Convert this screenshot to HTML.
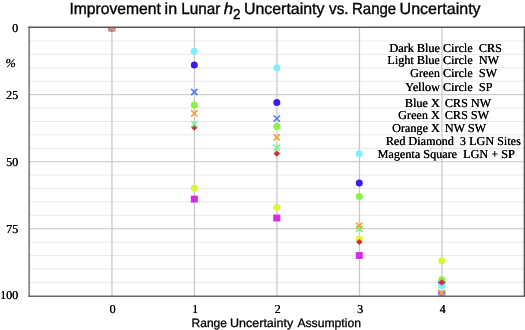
<!DOCTYPE html>
<html><head><meta charset="utf-8"><title>Improvement in Lunar h2 Uncertainty vs. Range Uncertainty</title>
<style>
html,body{margin:0;padding:0;background:#fff;}
body{width:525px;height:330px;overflow:hidden;font-family:"Liberation Sans",sans-serif;}
svg{display:block;will-change:transform;}
text{text-rendering:geometricPrecision;}
.t{font-family:"Liberation Sans",sans-serif;font-size:16px;fill:#000;stroke:#000;stroke-width:0.35px;}
.s{font-family:"Liberation Serif",serif;font-size:12.2px;fill:#000;}
.xl{font-family:"Liberation Sans",sans-serif;font-size:12px;fill:#000;stroke:#000;stroke-width:0.3px;}
</style></head><body>
<svg width="525" height="330" viewBox="0 0 525 330">
<rect x="0" y="0" width="525" height="330" fill="#fff"/>
<defs><clipPath id="pc"><rect x="29.30" y="27.30" width="495.00" height="268.50"/></clipPath></defs>

<line x1="29.30" y1="41.01" x2="524.30" y2="41.01" stroke="#e9e9e9" stroke-width="1"/>
<line x1="29.30" y1="54.42" x2="524.30" y2="54.42" stroke="#e9e9e9" stroke-width="1"/>
<line x1="29.30" y1="67.83" x2="524.30" y2="67.83" stroke="#e9e9e9" stroke-width="1"/>
<line x1="29.30" y1="81.24" x2="524.30" y2="81.24" stroke="#e9e9e9" stroke-width="1"/>
<line x1="29.30" y1="94.65" x2="524.30" y2="94.65" stroke="#c6c6c6" stroke-width="1"/>
<line x1="29.30" y1="108.06" x2="524.30" y2="108.06" stroke="#e9e9e9" stroke-width="1"/>
<line x1="29.30" y1="121.47" x2="524.30" y2="121.47" stroke="#e9e9e9" stroke-width="1"/>
<line x1="29.30" y1="134.88" x2="524.30" y2="134.88" stroke="#e9e9e9" stroke-width="1"/>
<line x1="29.30" y1="148.29" x2="524.30" y2="148.29" stroke="#e9e9e9" stroke-width="1"/>
<line x1="29.30" y1="161.70" x2="524.30" y2="161.70" stroke="#c6c6c6" stroke-width="1"/>
<line x1="29.30" y1="175.11" x2="524.30" y2="175.11" stroke="#e9e9e9" stroke-width="1"/>
<line x1="29.30" y1="188.52" x2="524.30" y2="188.52" stroke="#e9e9e9" stroke-width="1"/>
<line x1="29.30" y1="201.93" x2="524.30" y2="201.93" stroke="#e9e9e9" stroke-width="1"/>
<line x1="29.30" y1="215.34" x2="524.30" y2="215.34" stroke="#e9e9e9" stroke-width="1"/>
<line x1="29.30" y1="228.75" x2="524.30" y2="228.75" stroke="#c6c6c6" stroke-width="1"/>
<line x1="29.30" y1="242.16" x2="524.30" y2="242.16" stroke="#e9e9e9" stroke-width="1"/>
<line x1="29.30" y1="255.57" x2="524.30" y2="255.57" stroke="#e9e9e9" stroke-width="1"/>
<line x1="29.30" y1="268.98" x2="524.30" y2="268.98" stroke="#e9e9e9" stroke-width="1"/>
<line x1="29.30" y1="282.39" x2="524.30" y2="282.39" stroke="#e9e9e9" stroke-width="1"/>
<line x1="111.95" y1="27.30" x2="111.95" y2="295.80" stroke="#cacaca" stroke-width="1.3"/>
<line x1="194.45" y1="27.30" x2="194.45" y2="295.80" stroke="#cacaca" stroke-width="1.3"/>
<line x1="276.95" y1="27.30" x2="276.95" y2="295.80" stroke="#cacaca" stroke-width="1.3"/>
<line x1="359.45" y1="27.30" x2="359.45" y2="295.80" stroke="#cacaca" stroke-width="1.3"/>
<line x1="441.95" y1="27.30" x2="441.95" y2="295.80" stroke="#cacaca" stroke-width="1.3"/>
<g clip-path="url(#pc)">
<circle cx="111.80" cy="27.90" r="3.5" fill="#3a1cf5"/>
<circle cx="194.30" cy="65.00" r="3.5" fill="#3a1cf5"/>
<circle cx="276.80" cy="102.50" r="3.5" fill="#3a1cf5"/>
<circle cx="359.30" cy="182.90" r="3.5" fill="#3a1cf5"/>
<circle cx="441.80" cy="282.40" r="3.5" fill="#3a1cf5"/>
<circle cx="111.80" cy="27.90" r="3.5" fill="#7deefb"/>
<circle cx="194.30" cy="51.30" r="3.5" fill="#7deefb"/>
<circle cx="276.80" cy="67.70" r="3.5" fill="#7deefb"/>
<circle cx="359.30" cy="153.80" r="3.5" fill="#7deefb"/>
<circle cx="441.80" cy="285.80" r="3.5" fill="#7deefb"/>
<circle cx="111.80" cy="27.90" r="3.5" fill="#86f53c"/>
<circle cx="194.30" cy="105.00" r="3.5" fill="#86f53c"/>
<circle cx="276.80" cy="126.50" r="3.5" fill="#86f53c"/>
<circle cx="359.30" cy="196.50" r="3.5" fill="#86f53c"/>
<circle cx="441.80" cy="279.70" r="3.5" fill="#86f53c"/>
<circle cx="111.80" cy="27.90" r="3.5" fill="#d8f92e"/>
<circle cx="194.30" cy="188.30" r="3.5" fill="#d8f92e"/>
<circle cx="276.80" cy="207.20" r="3.5" fill="#d8f92e"/>
<circle cx="359.30" cy="238.90" r="3.5" fill="#d8f92e"/>
<circle cx="441.80" cy="260.80" r="3.5" fill="#d8f92e"/>
<rect x="108.30" y="24.45" width="7.0" height="6.9" fill="#d92be6"/>
<rect x="190.80" y="195.65" width="7.0" height="6.9" fill="#d92be6"/>
<rect x="273.30" y="214.55" width="7.0" height="6.9" fill="#d92be6"/>
<rect x="355.80" y="252.05" width="7.0" height="6.9" fill="#d92be6"/>
<rect x="438.30" y="290.85" width="7.0" height="6.9" fill="#d92be6"/>
<path d="M194.30 124.55L197.60 127.60L194.30 130.65L191.00 127.60Z" fill="#d22f3a"/>
<path d="M276.80 150.55L280.10 153.60L276.80 156.65L273.50 153.60Z" fill="#d22f3a"/>
<path d="M359.30 238.95L362.60 242.00L359.30 245.05L356.00 242.00Z" fill="#d22f3a"/>
<path d="M441.80 279.35L445.10 282.40L441.80 285.45L438.50 282.40Z" fill="#d22f3a"/>
<path d="M108.65 24.75L114.95 31.05M108.65 31.05L114.95 24.75" stroke="#4f7bf5" stroke-width="1.6" fill="none"/>
<path d="M191.15 88.85L197.45 95.15M191.15 95.15L197.45 88.85" stroke="#4f7bf5" stroke-width="1.6" fill="none"/>
<path d="M273.65 115.45L279.95 121.75M273.65 121.75L279.95 115.45" stroke="#4f7bf5" stroke-width="1.6" fill="none"/>
<path d="M438.65 293.15L444.95 299.45M438.65 299.45L444.95 293.15" stroke="#4f7bf5" stroke-width="1.6" fill="none"/>
<path d="M108.65 24.75L114.95 31.05M108.65 31.05L114.95 24.75" stroke="#70f48e" stroke-width="1.6" fill="none"/>
<path d="M191.15 121.05L197.45 127.35M191.15 127.35L197.45 121.05" stroke="#70f48e" stroke-width="1.6" fill="none"/>
<path d="M273.65 144.65L279.95 150.95M273.65 150.95L279.95 144.65" stroke="#70f48e" stroke-width="1.6" fill="none"/>
<path d="M356.15 225.85L362.45 232.15M356.15 232.15L362.45 225.85" stroke="#70f48e" stroke-width="1.6" fill="none"/>
<path d="M438.65 289.75L444.95 296.05M438.65 296.05L444.95 289.75" stroke="#70f48e" stroke-width="1.6" fill="none"/>
<path d="M108.65 24.75L114.95 31.05M108.65 31.05L114.95 24.75" stroke="#f0a235" stroke-width="1.6" fill="none"/>
<path d="M191.15 110.15L197.45 116.45M191.15 116.45L197.45 110.15" stroke="#f0a235" stroke-width="1.6" fill="none"/>
<path d="M273.65 134.15L279.95 140.45M273.65 140.45L279.95 134.15" stroke="#f0a235" stroke-width="1.6" fill="none"/>
<path d="M356.15 222.55L362.45 228.85M356.15 228.85L362.45 222.55" stroke="#f0a235" stroke-width="1.6" fill="none"/>
<path d="M438.65 289.95L444.95 296.25M438.65 296.25L444.95 289.95" stroke="#f0a235" stroke-width="1.6" fill="none"/>
</g>
<path d="M29.15 26.60V296.70" fill="none" stroke="#767676" stroke-width="1.5"/>
<path d="M524.40 26.60V296.70" fill="none" stroke="#585858" stroke-width="1.5"/>
<path d="M28.40 27.30H525.20" fill="none" stroke="#5a5a5a" stroke-width="1.4"/>
<path d="M28.40 296.20H525.20" fill="none" stroke="#686868" stroke-width="1.6"/>
<text class="t" x="69.40" y="13.60" textLength="91.50" lengthAdjust="spacingAndGlyphs" >Improvement</text>
<text class="t" x="164.60" y="13.60" textLength="12.50" lengthAdjust="spacingAndGlyphs" >in</text>
<text class="t" x="181.30" y="13.60" textLength="39.00" lengthAdjust="spacingAndGlyphs" >Lunar</text>
<text class="t" x="223.70" y="13.60" textLength="9.30" lengthAdjust="spacingAndGlyphs" font-style="italic">h</text>
<text class="t" x="233.00" y="18.70" textLength="7.60" lengthAdjust="spacingAndGlyphs" style="font-size:14.5px">2</text>
<text class="t" x="243.90" y="13.60" textLength="80.60" lengthAdjust="spacingAndGlyphs" >Uncertainty</text>
<text class="t" x="329.00" y="13.60" textLength="19.50" lengthAdjust="spacingAndGlyphs" >vs.</text>
<text class="t" x="352.00" y="13.60" textLength="44.20" lengthAdjust="spacingAndGlyphs" >Range</text>
<text class="t" x="399.60" y="13.60" textLength="81.00" lengthAdjust="spacingAndGlyphs" >Uncertainty</text>
<text class="s" x="18.15" y="31.50" text-anchor="end" xml:space="preserve" >0</text>
<text class="s" x="18.45" y="31.50" text-anchor="end" xml:space="preserve" >0</text>
<text class="s" x="18.15" y="99.20" text-anchor="end" xml:space="preserve" >25</text>
<text class="s" x="18.45" y="99.20" text-anchor="end" xml:space="preserve" >25</text>
<text class="s" x="18.15" y="166.20" text-anchor="end" xml:space="preserve" >50</text>
<text class="s" x="18.45" y="166.20" text-anchor="end" xml:space="preserve" >50</text>
<text class="s" x="18.15" y="233.20" text-anchor="end" xml:space="preserve" >75</text>
<text class="s" x="18.45" y="233.20" text-anchor="end" xml:space="preserve" >75</text>
<text class="s" x="18.15" y="299.20" text-anchor="end" xml:space="preserve" >100</text>
<text class="s" x="18.45" y="299.20" text-anchor="end" xml:space="preserve" >100</text>
<text class="s" x="5.45" y="67.00" xml:space="preserve" font-style="italic">%</text>
<text class="s" x="5.75" y="67.00" xml:space="preserve" font-style="italic">%</text>
<text class="s" x="112.45" y="313.00" text-anchor="middle" xml:space="preserve" >0</text>
<text class="s" x="112.75" y="313.00" text-anchor="middle" xml:space="preserve" >0</text>
<text class="s" x="194.95" y="313.00" text-anchor="middle" xml:space="preserve" >1</text>
<text class="s" x="195.25" y="313.00" text-anchor="middle" xml:space="preserve" >1</text>
<text class="s" x="277.45" y="313.00" text-anchor="middle" xml:space="preserve" >2</text>
<text class="s" x="277.75" y="313.00" text-anchor="middle" xml:space="preserve" >2</text>
<text class="s" x="359.95" y="313.00" text-anchor="middle" xml:space="preserve" >3</text>
<text class="s" x="360.25" y="313.00" text-anchor="middle" xml:space="preserve" >3</text>
<text class="s" x="442.45" y="313.00" text-anchor="middle" xml:space="preserve" >4</text>
<text class="s" x="442.75" y="313.00" text-anchor="middle" xml:space="preserve" >4</text>
<text class="xl" x="191.60" y="326.60" textLength="35.40" lengthAdjust="spacingAndGlyphs" >Range</text>
<text class="xl" x="230.00" y="326.60" textLength="63.30" lengthAdjust="spacingAndGlyphs" >Uncertainty</text>
<text class="xl" x="297.40" y="326.60" textLength="63.60" lengthAdjust="spacingAndGlyphs" >Assumption</text>
<text class="s" x="439.75" y="51.50" text-anchor="end" xml:space="preserve" >Dark Blue</text>
<text class="s" x="440.05" y="51.50" text-anchor="end" xml:space="preserve" >Dark Blue</text>
<text class="s" x="442.85" y="51.50" xml:space="preserve" >Circle  CRS</text>
<text class="s" x="443.15" y="51.50" xml:space="preserve" >Circle  CRS</text>
<text class="s" x="439.75" y="64.30" text-anchor="end" xml:space="preserve" >Light Blue</text>
<text class="s" x="440.05" y="64.30" text-anchor="end" xml:space="preserve" >Light Blue</text>
<text class="s" x="442.85" y="64.30" xml:space="preserve" >Circle  NW</text>
<text class="s" x="443.15" y="64.30" xml:space="preserve" >Circle  NW</text>
<text class="s" x="439.75" y="77.00" text-anchor="end" xml:space="preserve" >Green</text>
<text class="s" x="440.05" y="77.00" text-anchor="end" xml:space="preserve" >Green</text>
<text class="s" x="442.85" y="77.00" xml:space="preserve" >Circle  SW</text>
<text class="s" x="443.15" y="77.00" xml:space="preserve" >Circle  SW</text>
<text class="s" x="439.75" y="91.20" text-anchor="end" xml:space="preserve" >Yellow</text>
<text class="s" x="440.05" y="91.20" text-anchor="end" xml:space="preserve" >Yellow</text>
<text class="s" x="442.85" y="91.20" xml:space="preserve" >Circle  SP</text>
<text class="s" x="443.15" y="91.20" xml:space="preserve" >Circle  SP</text>
<text class="s" x="439.65" y="106.70" text-anchor="end" xml:space="preserve" >Blue X</text>
<text class="s" x="439.95" y="106.70" text-anchor="end" xml:space="preserve" >Blue X</text>
<text class="s" x="444.65" y="106.70" xml:space="preserve" >CRS NW</text>
<text class="s" x="444.95" y="106.70" xml:space="preserve" >CRS NW</text>
<text class="s" x="439.65" y="118.80" text-anchor="end" xml:space="preserve" >Green X</text>
<text class="s" x="439.95" y="118.80" text-anchor="end" xml:space="preserve" >Green X</text>
<text class="s" x="444.65" y="118.80" xml:space="preserve" >CRS SW</text>
<text class="s" x="444.95" y="118.80" xml:space="preserve" >CRS SW</text>
<text class="s" x="439.65" y="132.20" text-anchor="end" xml:space="preserve" >Orange X</text>
<text class="s" x="439.95" y="132.20" text-anchor="end" xml:space="preserve" >Orange X</text>
<text class="s" x="444.65" y="132.20" xml:space="preserve" >NW SW</text>
<text class="s" x="444.95" y="132.20" xml:space="preserve" >NW SW</text>
<text class="s" x="385.65" y="145.40" xml:space="preserve" >Red Diamond  3 LGN Sites</text>
<text class="s" x="385.95" y="145.40" xml:space="preserve" >Red Diamond  3 LGN Sites</text>
<text class="s" x="377.45" y="157.60" xml:space="preserve" >Magenta Square  LGN + SP</text>
<text class="s" x="377.75" y="157.60" xml:space="preserve" >Magenta Square  LGN + SP</text>
</svg></body></html>
